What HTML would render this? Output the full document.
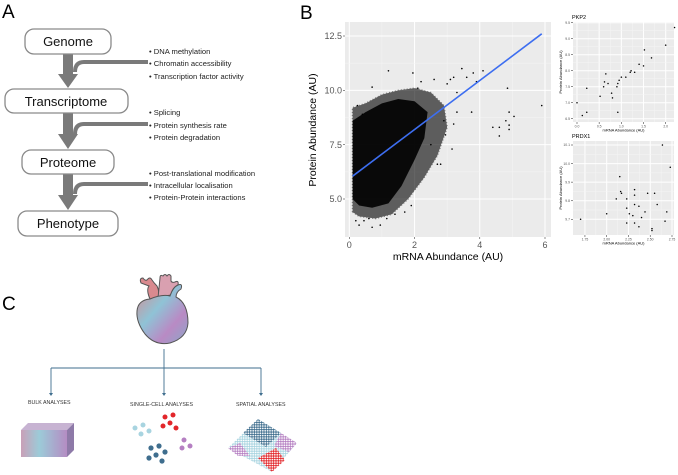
<!DOCTYPE html>
<html><head><meta charset="utf-8">
<style>
html,body{margin:0;padding:0;background:#fff;}
body{width:678px;height:475px;overflow:hidden;position:relative;font-family:"Liberation Sans",sans-serif;}
svg{position:absolute;left:0;top:0;}
</style></head>
<body>
<svg id="fig" width="678" height="475" viewBox="0 0 678 475" xmlns="http://www.w3.org/2000/svg">
<defs>
<linearGradient id="hg" x1="0" y1="0" x2="1" y2="1">
<stop offset="0" stop-color="#d98a8f"/><stop offset="0.4" stop-color="#8fc3d6"/><stop offset="0.7" stop-color="#b98ac4"/><stop offset="1" stop-color="#8aa7c8"/>
</linearGradient>
<linearGradient id="bg" x1="0" y1="0" x2="1" y2="0">
<stop offset="0" stop-color="#c9a0b8"/><stop offset="0.4" stop-color="#9ccbd8"/><stop offset="1" stop-color="#b48cc3"/>
</linearGradient>
<pattern id="dotpat" width="2.4" height="2.4" patternUnits="userSpaceOnUse">
<rect width="2.4" height="2.4" fill="#fff"/><circle cx="1.2" cy="1.2" r="0.9" fill="#000"/>
</pattern>
<mask id="dotmask"><rect x="220" y="410" width="90" height="70" fill="url(#dotpat)"/></mask>
</defs>

<!-- Panel A -->
<g font-family="Liberation Sans, sans-serif">
<text x="2" y="18" font-size="19">A</text>
<g fill="#7a7a7a">
<rect x="63" y="54" width="10" height="22"/><polygon points="58,74 78,74 68,88"/>
<rect x="63" y="113" width="10" height="23"/><polygon points="58,134 78,134 68,149"/>
<rect x="63" y="174" width="10" height="23"/><polygon points="58,195 78,195 68,210"/>
</g>
<g fill="none" stroke="#7a7a7a" stroke-width="4">
<path d="M148,62 H84 Q75,62 75,72"/>
<path d="M148,124 H84 Q75,124 75,134"/>
<path d="M148,184 H84 Q75,184 75,194"/>
</g>
<g fill="#fff" stroke="#8a8a8a" stroke-width="1.3">
<rect x="25" y="29" width="86" height="25" rx="9"/>
<rect x="5" y="89" width="123" height="24" rx="9"/>
<rect x="22" y="150" width="92" height="24" rx="9"/>
<rect x="18" y="211" width="100" height="25" rx="9"/>
</g>
<g font-size="13" text-anchor="middle" fill="#111">
<text x="68" y="46">Genome</text>
<text x="66" y="106">Transcriptome</text>
<text x="68" y="167">Proteome</text>
<text x="68" y="228">Phenotype</text>
</g>
<g font-size="7.6" fill="#222">
<text x="149" y="54">• DNA methylation</text>
<text x="149" y="66">• Chromatin accessibility</text>
<text x="149" y="79">• Transcription factor activity</text>
<text x="149" y="115">• Splicing</text>
<text x="149" y="128">• Protein synthesis rate</text>
<text x="149" y="140">• Protein degradation</text>
<text x="149" y="176">• Post-translational modification</text>
<text x="149" y="188">• Intracellular localisation</text>
<text x="149" y="200">• Protein-Protein interactions</text>
</g>
</g>

<!-- Panel B -->
<text x="300" y="19" font-size="19">B</text>
<g id="main"></g>
<g id="pkp2"></g>
<g id="prdx1"></g>

<!-- Panel C -->
<g>
<text x="2" y="310" font-size="19">C</text>
<g stroke="#555" stroke-width="1">
<path d="M150,299 Q146,290 149,286 L141,283 Q139,278 143,278 Q145,281 147,280 Q150,276 152,280 Q154,283 157,286 Q160,292 158,298 Z" fill="#d98a8f"/>
<path d="M158,298 L160,278 Q160,274 163,276 Q165,273 167,276 Q169,273 171,276 L171,281 Q172,283 175,282 Q179,280 178,285 Q172,288 171,295 L165,296 Z" fill="#d9a0b0"/>
<path d="M150,299 Q162,294 170,296 Q173,287 178,285 Q183,283 181,289 Q176,292 176,297 Q188,303 188,323 Q187,338 170,343 Q155,346 145,334 Q136,322 137,311 Q138,300 150,299 Z" fill="url(#hg)"/>
</g>
<g stroke="#3f6e8e" stroke-width="0.9" fill="none">
<path d="M164,349 V368 M51,368 H261 M51,368 V394 M164,368 V394 M261,368 V394"/>
</g>
<g fill="#3f6e8e"><polygon points="49,393 53,393 51,396"/><polygon points="162,393 166,393 164,396"/><polygon points="259,393 263,393 261,396"/></g>
<g font-size="5.3" fill="#333">
<text x="28" y="404">BULK ANALYSES</text>
<text x="130" y="406">SINGLE-CELL ANALYSES</text>
<text x="236" y="406">SPATIAL ANALYSES</text>
</g>
<g>
<polygon points="21,430 28,423 74,423 67,430" fill="#c7b3d2"/>
<polygon points="67,430 74,423 74,450 67,457" fill="#8e7aa8"/>
<rect x="21" y="430" width="46" height="27" fill="url(#bg)"/>
</g>
<g>
<g fill="#a8d4e0"><circle cx="135" cy="428" r="2.5"/><circle cx="143" cy="425" r="2.5"/><circle cx="141" cy="434" r="2.5"/><circle cx="149" cy="431" r="2.5"/></g>
<g fill="#e2262a"><circle cx="165" cy="417" r="2.5"/><circle cx="173" cy="415" r="2.5"/><circle cx="170" cy="423" r="2.5"/><circle cx="163" cy="426" r="2.5"/><circle cx="176" cy="428" r="2.5"/></g>
<g fill="#b57fc2"><circle cx="184" cy="440" r="2.5"/><circle cx="190" cy="446" r="2.5"/><circle cx="182" cy="448" r="2.5"/></g>
<g fill="#3f6e8e"><circle cx="151" cy="448" r="2.6"/><circle cx="159" cy="446" r="2.6"/><circle cx="165" cy="452" r="2.6"/><circle cx="156" cy="455" r="2.6"/><circle cx="149" cy="458" r="2.6"/><circle cx="162" cy="461" r="2.6"/></g>
</g>
<g mask="url(#dotmask)">
<polygon points="258,419 297,443 272,472 228,448" fill="#a8d4e0"/>
<polygon points="258,419 281,433 266,447 243,433" fill="#3f6e8e"/>
<polygon points="281,433 297,443 289,452 274,446" fill="#b57fc2"/>
<polygon points="228,448 240,443 250,456 238,456" fill="#b57fc2"/>
<polygon points="258,458 276,448 285,460 272,472" fill="#e2262a"/>
</g>
</g>

<script>
// ---- main scatter data ----
const mainXTicks = [0, 2, 4, 6];
const mainYTicks = [5.0, 7.5, 10.0, 12.5];
const fitStart = [0.1, 6.05];
const fitEnd = [5.9, 12.6];
const denseCoreX = [0.1, 0.1, 0.5, 1.0, 1.5, 2.0, 2.4, 2.3, 2.0, 1.6, 1.2, 0.7, 0.3];
const denseCoreY = [5.0, 8.6, 9.0, 9.4, 9.6, 9.5, 9.0, 7.8, 6.8, 5.6, 4.8, 4.6, 4.7];
const cloudX = [0.1, 0.1, 0.5, 1.0, 1.5, 2.0, 2.5, 2.9, 3.0, 2.7, 2.3, 1.8, 1.3, 0.8, 0.3];
const cloudY = [4.4, 9.2, 9.4, 9.8, 10.0, 10.1, 9.9, 9.3, 8.3, 7.0, 6.0, 5.0, 4.3, 4.1, 4.2];
const outlierX = [1.2,1.95,0.7,3.45,3.8,4.1,3.9,4.85,4.9,5.05,4.8,4.9,4.4,4.6,4.6,4.9,5.9,3.75,3.3,3.2,3.15,2.95,2.8,2.7,0.3,0.7,0.95,1.15,0.6,1.4,1.9,0.2,0.45,2.5,2.9,3.3,3.0,2.6,3.2,2.1,3.6,3.1,2.2,0.25,1.7,0.4];
const outlierY = [10.9,10.8,10.15,11.0,10.8,10.9,10.4,10.1,9.0,8.8,8.6,8.4,8.3,8.3,7.9,8.2,9.3,9.0,9.0,8.45,7.3,7.95,6.6,6.6,3.8,3.7,3.8,4.1,4.1,4.3,4.7,4.0,4.0,7.5,8.6,9.9,10.3,10.5,10.6,10.1,10.6,10.5,10.4,9.3,4.4,8.9];
// ---- PKP2 ----
const pkpXTicks = [0.0, 0.5, 1.0, 1.5, 2.0];
const pkpYTicks = [6.5, 7.0, 7.5, 8.0, 8.5, 9.0, 9.5];
const pkpX = [0,0.12,0.22,0.22,0.52,0.6,0.62,0.65,0.7,0.78,0.8,0.9,0.92,0.92,0.95,1.0,1.1,1.2,1.22,1.3,1.4,1.5,1.52,1.68,2.0,2.2];
const pkpY = [7.0,6.6,6.7,7.45,7.2,7.5,7.65,7.9,7.6,7.3,7.15,7.5,7.6,6.7,7.7,7.8,7.8,7.95,8.0,7.95,8.2,8.15,8.65,8.4,8.8,9.35];
// ---- PRDX1 ----
const prdXTicks = [1.75, 2.00, 2.25, 2.50, 2.75];
const prdYTicks = [9.7, 9.8, 9.9, 10.0, 10.1];
const prdX = [1.70,2.0,2.11,2.16,2.17,2.23,2.23,2.26,2.15,2.23,2.30,2.32,2.32,2.32,2.32,2.37,2.37,2.40,2.44,2.47,2.52,2.52,2.55,2.58,2.64,2.67,2.69,2.73];
const prdY = [9.70,9.73,9.81,9.85,9.84,9.81,9.76,9.73,9.93,9.68,9.72,9.86,9.83,9.78,9.68,9.77,9.66,9.71,9.74,9.84,9.65,9.64,9.84,9.78,10.1,9.69,9.74,9.98];

const NS = "http://www.w3.org/2000/svg";
function mk(parent, tag, attrs, txt) {
  const e = document.createElementNS(NS, tag);
  for (const k in attrs) e.setAttribute(k, attrs[k]);
  if (txt !== undefined) e.textContent = txt;
  parent.appendChild(e);
  return e;
}
function lin(d0, d1, r0, r1) { return v => r0 + (v - d0) * (r1 - r0) / (d1 - d0); }

function panel(g, box, sx, sy, xt, yt, fs, tickFmtX, tickFmtY) {
  const bg = mk(g, "rect", {x: box[0], y: box[1], width: box[2]-box[0], height: box[3]-box[1], fill: "#ebebeb"});
  
  
  xt.forEach((v, i) => {
    if (i < xt.length - 1) {
      const m = (v + xt[i+1]) / 2;
      mk(g, "line", {x1: sx(m), x2: sx(m), y1: box[1], y2: box[3], stroke: "#f5f5f5", "stroke-width": 0.5});
    }
    const gl = mk(g, "line", {x1: sx(v), x2: sx(v), y1: box[1], y2: box[3], stroke: "#fff", "stroke-width": 1});
    
    
    mk(g, "line", {x1: sx(v), x2: sx(v), y1: box[3], y2: box[3] + 2, stroke: "#444", "stroke-width": 0.6});
    const t = mk(g, "text", {x: sx(v), y: box[3] + 2 + fs, "font-size": fs, "text-anchor": "middle", fill: "#555"}, tickFmtX(v));
    
    
  });
  yt.forEach((v, i) => {
    if (i < yt.length - 1) {
      const m = (v + yt[i+1]) / 2;
      mk(g, "line", {x1: box[0], x2: box[2], y1: sy(m), y2: sy(m), stroke: "#f5f5f5", "stroke-width": 0.5});
    }
    const gl = mk(g, "line", {x1: box[0], x2: box[2], y1: sy(v), y2: sy(v), stroke: "#fff", "stroke-width": 1});
    
    
    mk(g, "line", {x1: box[0] - 2, x2: box[0], y1: sy(v), y2: sy(v), stroke: "#444", "stroke-width": 0.6});
    const t = mk(g, "text", {x: box[0] - 3, y: sy(v) + fs * 0.35, "font-size": fs, "text-anchor": "end", fill: "#555"}, tickFmtY(v));
    
    
  });
}
function dots(g, xs, ys, sx, sy, r, name) {
  xs.forEach((x, i) => {
    const c = mk(g, "circle", {cx: sx(x), cy: sy(ys[i]), r: r, fill: "#000"});
    
    
  });
}

// Main
(function () {
  const g = document.getElementById("main");
  const box = [345, 22, 551, 237];
  const sx = lin(0, 6, 349.3, 545);
  const sy = lin(5, 12.5, 199, 36);
  panel(g, box, sx, sy, mainXTicks, mainYTicks, 9, v => String(v), v => v.toFixed(1));
  const outer = mk(g, "polygon", {points: cloudX.map((x, i) => sx(x) + "," + sy(cloudY[i])).join(" "), fill: "#000", opacity: 0.6, stroke: "#000", "stroke-width": 1.5, "stroke-dasharray": "1 2", "stroke-opacity": 0.8});
  
  
  const core = mk(g, "polygon", {points: denseCoreX.map((x, i) => sx(x) + "," + sy(denseCoreY[i])).join(" "), fill: "#000", opacity: 0.9});
  
  
  dots(g, outlierX, outlierY, sx, sy, 0.8, 'data-point');
  const fit = mk(g, "line", {x1: sx(fitStart[0]), y1: sy(fitStart[1]), x2: sx(fitEnd[0]), y2: sy(fitEnd[1]), stroke: "#3d6ef0", "stroke-width": 1.6});
  
  
  const r2 = mk(g, "text", {x: 356, y: 48, "font-size": 13, fill: "#000"});
  
  
  r2.innerHTML = '<tspan font-style="italic">R</tspan><tspan font-size="8" dy="-6">2</tspan><tspan dy="6"> = 0.37</tspan>';
  const xl = mk(g, "text", {x: 448, y: 260, "font-size": 10.5, "text-anchor": "middle", fill: "#000"}, "mRNA Abundance (AU)");
  
  
  const yl = mk(g, "text", {x: 316, y: 130, "font-size": 10.5, "text-anchor": "middle", fill: "#000", transform: "rotate(-90 316 130)"}, "Protein Abundance (AU)");
  
  
})();

function small(id, box, sx, sy, xt, yt, xs, ys, title, r2txt, fx, fy) {
  const g = document.getElementById(id);
  panel(g, box, sx, sy, xt, yt, 3.4, fx, fy);
  dots(g, xs, ys, sx, sy, 0.75, 'data-point');
  const t = mk(g, "text", {x: box[0] - 1, y: box[1] - 3, "font-size": 5.5, fill: "#000"}, title);
  
  
  const r = mk(g, "text", {x: box[0] + 5, y: box[1] + 12, "font-size": 5.5, fill: "#000"});
  
  
  r.innerHTML = '<tspan font-style="italic">R</tspan><tspan font-size="3.5" dy="-2.5">2</tspan><tspan dy="2.5"> = ' + r2txt + '</tspan>';
  const xl = mk(g, "text", {x: (box[0] + box[2]) / 2, y: box[3] + 9.5, "font-size": 4, "text-anchor": "middle", fill: "#000"}, "mRNA Abundance (AU)");
  
  
  const cy = (box[1] + box[3]) / 2;
  const yl = mk(g, "text", {x: box[0] - 11, y: cy, "font-size": 4, "text-anchor": "middle", fill: "#000", transform: "rotate(-90 " + (box[0] - 11) + " " + cy + ")"}, "Protein Abundance (AU)");
  
  
}
small("pkp2", [573, 22, 674, 122], lin(0, 2, 577, 665.7), lin(6.5, 9.5, 118.7, 22.7), pkpXTicks, pkpYTicks, pkpX, pkpY, "PKP2", "0.78", v => v.toFixed(1), v => v.toFixed(1));
small("prdx1", [573, 141, 674, 235], lin(2, 2.75, 606.7, 672), lin(9.7, 10.1, 219.3, 145), prdXTicks, prdYTicks, prdX, prdY, "PRDX1", "0.04", v => v.toFixed(2), v => v.toFixed(1));
</script>
</svg>
</body></html>
